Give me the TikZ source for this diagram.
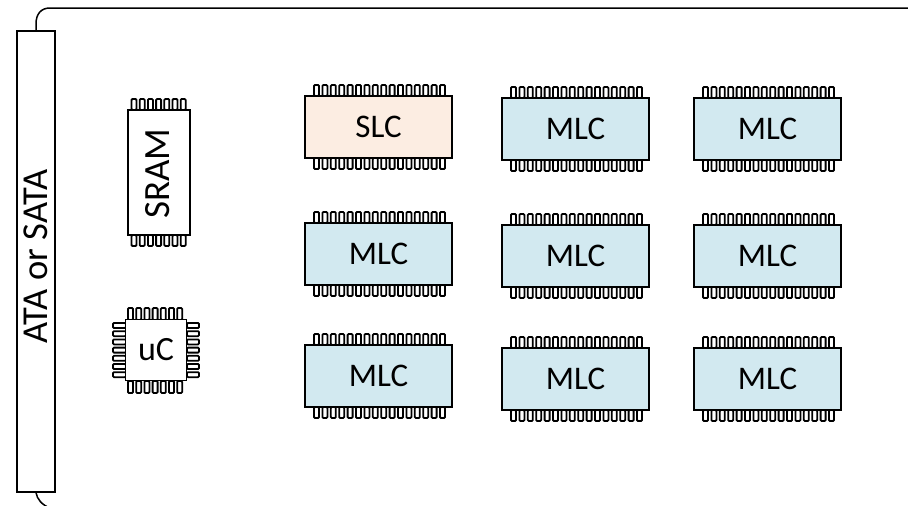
\documentclass[tikz,border=0pt]{standalone}
\usepackage{fontspec}
\setmainfont{Carlito}
\usetikzlibrary{positioning}

\begin{document}
\begin{tikzpicture}[x=1pt,y=-1pt,
    chip/.style={draw,line width=1.5pt,minimum width=147pt,minimum height=62pt,inner sep=0pt,font=\fontsize{33}{33}\selectfont},
    mlc/.style={chip,fill=mlcfill},
    slc/.style={chip,fill=slcfill},
    pin/.style={draw,line width=1.8pt,fill=white,rounded corners=1pt}]
    \definecolor{mlcfill}{RGB}{210,233,240}
    \definecolor{slcfill}{RGB}{252,237,226}
    \clip (0,0) rectangle (908,506);

    % Board outline
    \node[draw,line width=1.5pt,minimum width=38pt,minimum height=461pt,inner sep=0pt] (ata) at (36,261.5) {};
    \node[rotate=90,font=\fontsize{36.5}{37}\selectfont] (atalabel) at (36,256.5) {ATA or SATA};
    \coordinate (top) at (908,8);
    \coordinate (bottom) at (50,508);
    \draw[line width=1.5pt] (ata.north) -- (36,24) .. controls (36,14) and (41,8) .. (50,8) -- (top);
    \draw[line width=1.5pt] (ata.south) .. controls (37,499) and (42,505) .. (bottom);

    % Memory chips
    \foreach \name/\cx/\cy/\kind/\txt in {
        slc/378.5/127/slc/SLC, a/378.5/254/mlc/MLC, b/378.5/376/mlc/MLC,
        c/575.5/129/mlc/MLC, d/575.5/256/mlc/MLC, e/575.5/379/mlc/MLC,
        f/767.5/129/mlc/MLC, g/767.5/256/mlc/MLC, h/767.5/379/mlc/MLC} {
        \foreach \i in {0,...,15} {
            \draw[pin] ({\cx-64.5+8.4*\i},{\cy-31}) rectangle +(5,-11);
            \draw[pin] ({\cx-64.5+8.4*\i},{\cy+31}) rectangle +(5,11);
        }
        \node[\kind] (\name) at (\cx,\cy) {\txt};
    }

    % SRAM
    \foreach \i in {0,...,6} {
        \draw[pin] ({131.5+8.2*\i},110) rectangle +(5,-11);
        \draw[pin] ({131.5+8.2*\i},235) rectangle +(5,11);
    }
    \node[draw,line width=1.5pt,fill=white,minimum width=62pt,minimum height=125pt,inner sep=0pt] (sram) at (159,172.5) {};
    \node[rotate=90,font=\fontsize{37}{37}\selectfont] (sramlabel) at (158,173.5) {SRAM};

    % Controller
    \foreach \i in {0,...,6} {
        \draw[pin] ({128+8.2*\i},320) rectangle +(5,-12);
        \draw[pin] ({128+8.2*\i},381) rectangle +(5,12);
        \draw[pin] (126,{323+8.2*\i}) rectangle +(-13,5);
        \draw[pin] (187,{323+8.2*\i}) rectangle +(12,5);
    }
    \node[draw,line width=1.5pt,fill=white,minimum width=61pt,minimum height=61pt,inner sep=0pt,font=\fontsize{34}{34}\selectfont] (uc) at (156,350) {uC};
\end{tikzpicture}
\end{document}
